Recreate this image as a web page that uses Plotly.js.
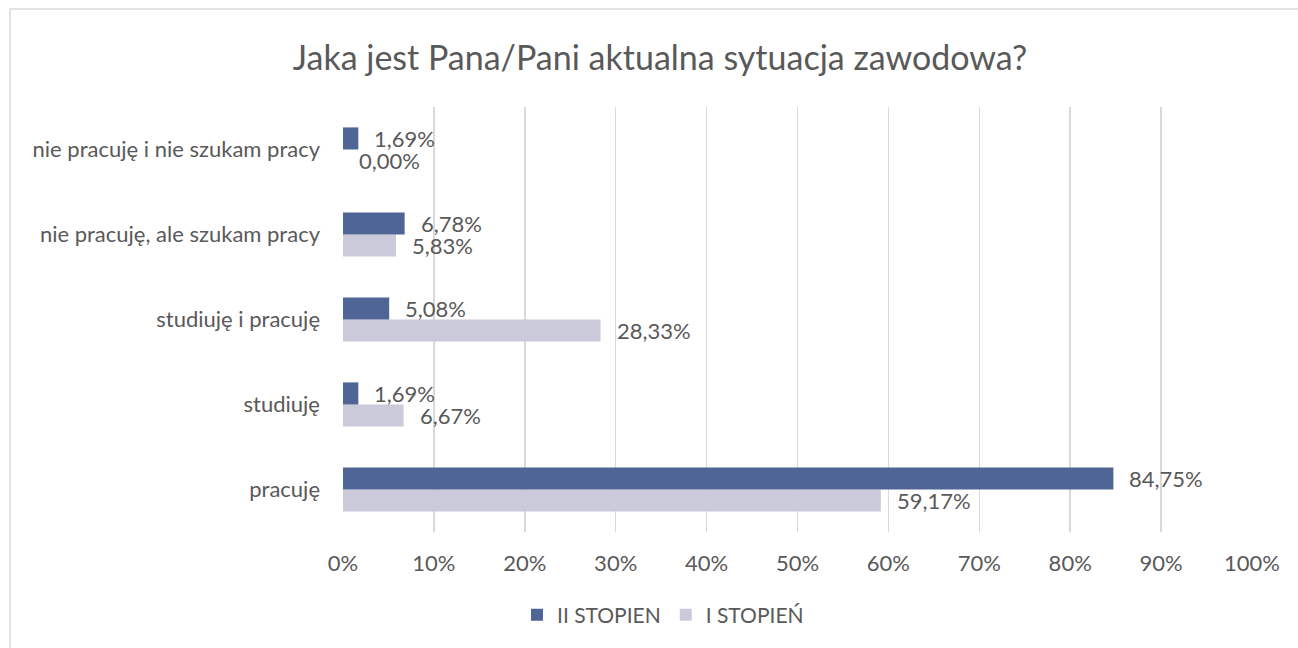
<!DOCTYPE html>
<html>
<head>
<meta charset="utf-8">
<script src="https://cdn.plot.ly/plotly-3.0.1.min.js"></script>
<style>html,body{margin:0;padding:0;background:#fff;}#chart{width:1298px;height:648px;}</style>
</head>
<body>
<div id="chart"></div>
<script>
var categories = ["pracuję", "studiuję", "studiuję i pracuję", "nie pracuję, ale szukam pracy", "nie pracuję i nie szukam pracy"];
var seriesNames = ["II STOPIEN", "I STOPIEŃ"];
var valuesII = [84.75, 1.69, 5.08, 6.78, 1.69];
var valuesI = [59.17, 6.67, 28.33, 5.83, 0.00];
var tickVals = [0, 10, 20, 30, 40, 50, 60, 70, 80, 90, 100];
var tickText = tickVals.map(function(v){ return v + "%"; });

var FONT = "Lato, 'Open Sans', sans-serif";
var TXT = "#595959";
var fmt = function(v){ return v.toFixed(2).replace(".", ",") + "%"; };

var traceI = {
  type: "bar", orientation: "h", name: seriesNames[1],
  y: categories, x: valuesI,
  marker: {color: "#CBCADB"}, hoverinfo: "skip"
};
var traceII = {
  type: "bar", orientation: "h", name: seriesNames[0],
  y: categories, x: valuesII,
  marker: {color: "#4F6596"}, hoverinfo: "skip"
};

var annotations = [];
categories.forEach(function(c, i){
  annotations.push({x: valuesII[i], y: c, xref: "x", yref: "y", text: fmt(valuesII[i]),
    showarrow: false, xanchor: "left", yanchor: "middle", xshift: 14, yshift: 11,
    font: {family: FONT, size: 22, color: TXT}});
  annotations.push({x: valuesI[i], y: c, xref: "x", yref: "y", text: fmt(valuesI[i]),
    showarrow: false, xanchor: "left", yanchor: "middle", xshift: 14, yshift: -11,
    font: {family: FONT, size: 22, color: TXT}});
});

var layout = {
  width: 1298, height: 648,
  margin: {l: 343, r: 46, t: 107, b: 116},
  paper_bgcolor: "#fff", plot_bgcolor: "#fff",
  font: {family: FONT, size: 22, color: TXT},
  title: {text: "Jaka jest Pana/Pani aktualna sytuacja zawodowa?", x: 660/1298, xref: "container", xanchor: "center",
    y: 1 - 58/648, yref: "container", yanchor: "middle",
    font: {family: FONT, size: 34, color: TXT}},
  barmode: "group", bargap: 0.48, bargroupgap: 0,
  xaxis: {range: [0, 100], tickvals: tickVals, ticktext: tickText, showgrid: true, gridcolor: "#D9D9D9", gridwidth: 1.5,
    zeroline: false, showline: false, ticks: "", ticklabelstandoff: 16, fixedrange: true,
    tickfont: {family: FONT, size: 22, color: TXT}},
  yaxis: {type: "category", showgrid: false, zeroline: false, showline: false, ticks: "", ticklabelstandoff: 22,
    tickfont: {family: FONT, size: 22, color: TXT}},
  showlegend: true,
  legend: {orientation: "h", traceorder: "reversed", x: 663/1298, xref: "container", xanchor: "center",
    y: 1 - 615/648, yref: "container", yanchor: "middle",
    font: {family: FONT, size: 21, color: TXT}, itemwidth: 30},
  annotations: annotations,
  shapes: [{type: "rect", xref: "paper", yref: "paper", x0: (10-343)/909, x1: 1.2, y0: -0.5, y1: 1 + (107-9)/425,
    line: {color: "#D9D9D9", width: 1.5}, fillcolor: "rgba(0,0,0,0)", layer: "below"}]
};

Plotly.newPlot("chart", [traceI, traceII], layout, {displayModeBar: false, staticPlot: true});
</script>
</body>
</html>
